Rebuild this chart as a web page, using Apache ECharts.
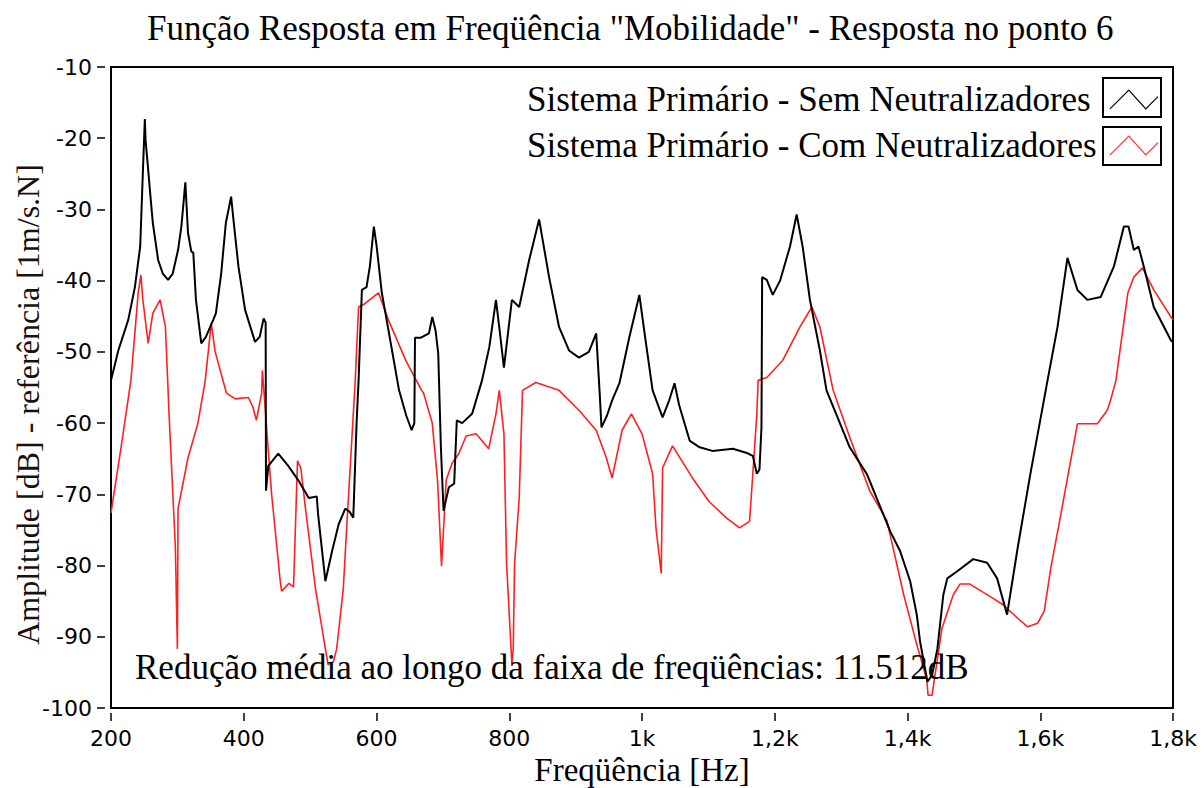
<!DOCTYPE html>
<html>
<head>
<meta charset="utf-8">
<script src="https://cdn.jsdelivr.net/npm/echarts@6/dist/echarts.min.js"></script>
<style>
html,body{margin:0;padding:0;background:#fff;}
#chart{width:1204px;height:788px;}
</style>
</head>
<body>
<div id="chart"></div>
<script>
// ---- data ----
var semFreq = [200,211,226,236,244,248,251,252,256,259,263,271,278,286,293,301,306,312,316,321,324,328,336,343,354,358,366,373,381,384,392,402,417,424,430,433,433.5,437,452,467,482,498,510,512,523,533,543,553,560,565,570,573,578,585,590,596,600,608,620,634,645,653,657,658,667,679,684,689,693,697,701,709,717,721,729,744,759,770,780,785,792,804,815,830,845,860,875,890,905,920,931,936,939,947,955,966,981,996,1006,1016,1031,1041,1049,1056,1072,1087,1106,1137,1158,1167,1173,1177,1180,1181,1188,1197,1208,1223,1233,1242,1253,1268,1278,1313,1339,1374,1389,1404,1414,1419,1430,1437,1445,1454,1460,1475,1499,1520,1535,1550,1566,1585,1611,1626,1641,1656,1671,1691,1711,1726,1733,1741,1748,1756,1771,1797,1800];
var semDb = [-54,-49.8,-45.5,-40.9,-35.2,-24.8,-17.3,-20.2,-24.4,-27.7,-31.9,-37.1,-39,-39.9,-39,-35.7,-32.4,-26.2,-33.3,-35.9,-36.1,-42.7,-48.8,-47.9,-45.5,-44.6,-39,-31.9,-28.2,-31,-38,-44.1,-48.6,-47.9,-45.3,-45.9,-69.5,-66,-64.3,-66,-68,-70.5,-70.3,-72.8,-82.2,-78,-74.2,-72,-72.5,-73.3,-60,-54,-41.3,-40.9,-38,-32.4,-35,-41.7,-48,-55.4,-59,-61,-60,-48,-48,-47.4,-45.1,-47,-50.2,-63.4,-72.3,-69,-68.5,-59.6,-60,-58.7,-54,-49.3,-42.7,-46.6,-52.2,-42.7,-43.7,-37.1,-31.4,-39.5,-46.5,-49.8,-50.8,-50,-47.4,-55.4,-60.6,-59,-56.8,-54.4,-47.9,-42,-48.8,-55.4,-59.2,-56.8,-54.4,-57.5,-62.5,-63.4,-63.9,-63.6,-64.2,-64.6,-67.1,-66.5,-60.6,-39.5,-39.9,-42,-40,-35.2,-30.7,-35.2,-42.7,-49.8,-55.4,-63.4,-67.2,-75.2,-78,-82.2,-86.9,-90.7,-96.3,-95.4,-91.7,-84.1,-81.8,-80.8,-79.1,-79.6,-81.8,-86.9,-77.5,-67.2,-54,-46.5,-36.8,-41.3,-42.7,-42.3,-38,-32.4,-32.4,-35.7,-35.2,-38,-43.7,-48.4,-48.6];

var comFreq = [200,215,230,241,245,248,256,263,274,282,286,287,297,300,301,316,331,342,351,357,374,387,407,414,419,427,428,430,437,442,455,457,468,475,481,486,493,508,523,527,535,540,550,555,568,573,583,603,618,644,668,671,684,692,698,705,714,724,735,750,769,780,785,792,796,804,806,808,815,820,840,875,905,931,946,955,970,984,1000,1016,1021,1029,1031,1046,1076,1101,1127,1147,1162,1167,1173,1175,1188,1212,1238,1256,1268,1288,1313,1343,1369,1394,1414,1429,1431,1437,1452,1469,1479,1494,1529,1544,1566,1581,1596,1606,1616,1631,1656,1676,1686,1701,1706,1714,1732,1741,1754,1771,1797,1800];
var comDb = [-72.6,-63.5,-54,-41.7,-39.2,-42.7,-48.8,-44.6,-42.7,-46.5,-55.4,-57.8,-77.5,-91.7,-72,-64.9,-60,-54,-46,-50,-55.8,-56.6,-56.4,-57.8,-59.6,-55.8,-52.6,-55,-63.9,-70,-82.2,-83.6,-82.5,-83,-65.3,-66.3,-72,-83.2,-91.7,-93.9,-93.5,-91.7,-83.2,-74.8,-54,-43.7,-43.2,-41.7,-45.5,-51.2,-55.4,-55.8,-60,-68.1,-80.1,-68,-65.6,-64.3,-61.8,-61.5,-63.6,-58.7,-55.4,-61.5,-79.8,-93.9,-91.7,-79.8,-70.5,-55.4,-54.3,-55.4,-58.2,-61,-64.8,-67.7,-61,-58.7,-61.5,-67.1,-74.7,-81.1,-66.3,-63.2,-67.7,-71,-73.3,-74.7,-73.8,-67.1,-58.7,-54,-53.6,-51.2,-46.5,-43.7,-46.5,-55.4,-62,-69.5,-73.7,-84,-91.1,-96,-98.2,-98.2,-88.8,-84.1,-82.6,-82.6,-84.6,-85.5,-87.4,-88.6,-88.1,-86.4,-80.3,-72.8,-60.1,-60.1,-60.1,-58.2,-56.8,-54,-41.7,-39.5,-38.2,-41.3,-45.1,-45.5];

var xTickValues = [200,400,600,800,1000,1200,1400,1600,1800];
var xTickLabels = ['200','400','600','800','1k','1,2k','1,4k','1,6k','1,8k'];
var seriesNames = ['Sistema Primário - Sem Neutralizadores','Sistema Primário - Com Neutralizadores'];
var titleText = 'Função Resposta em Freqüência "Mobilidade" - Resposta no ponto 6';
var noteText = 'Redução média ao longo da faixa de freqüências: 11.512dB';

function pairs(fs, ds){ var out=[]; for(var i=0;i<fs.length;i++){ out.push([fs[i], ds[i]]); } return out; }

var chart = echarts.init(document.getElementById('chart'), null, {renderer:'svg'});
var serif = '"Liberation Serif","Times New Roman",serif';
var sans = '"DejaVu Sans",Verdana,sans-serif';
var zig = 'path://M0,20 L20,0 L38,20 L51,7';

chart.setOption({
  animation:false,
  backgroundColor:'#fff',
  title:[
    {text:titleText, left:142, top:6, textStyle:{fontFamily:serif, fontSize:35, fontWeight:'normal', color:'#000'}},
    {text:noteText, left:130, top:645, textStyle:{fontFamily:serif, fontSize:35, fontWeight:'normal', color:'#000'}}
  ],
  legend:{
    orient:'vertical', left:522, top:77, align:'right', itemGap:11,
    itemWidth:48, itemHeight:20, icon:zig,
    data:[
      {name:seriesNames[0], itemStyle:{color:'none', borderColor:'#000', borderWidth:1.2}},
      {name:seriesNames[1], itemStyle:{color:'none', borderColor:'#ff3030', borderWidth:1.2}}
    ],
    formatter:function(n){ return '{a|' + n + '}'; },
    textStyle:{fontFamily:serif, fontSize:35, color:'#000',
      rich:{a:{fontFamily:serif, fontSize:35, color:'#000', width:578, align:'left', lineHeight:39}}},
    selectedMode:false
  },
  graphic:[
    {type:'rect', shape:{x:1103, y:78, width:58, height:39}, style:{fill:'none', stroke:'#000', lineWidth:2}, z:10},
    {type:'rect', shape:{x:1103, y:127, width:58, height:38}, style:{fill:'none', stroke:'#000', lineWidth:2}, z:10}
  ],
  grid:{left:111, top:67, right:31, bottom:80, show:true, borderColor:'#000', borderWidth:2, backgroundColor:'#fff',
    containLabel:false, outerBoundsMode:'none'},
  xAxis:{
    type:'value', min:200, max:1800, interval:200, offset:5,
    name:'Freqüência [Hz]', nameLocation:'middle', nameGap:36,
    nameTextStyle:{fontFamily:serif, fontSize:33, color:'#000'},
    axisLine:{show:false},
    axisTick:{show:true, length:8, lineStyle:{color:'#000', width:1.5}},
    axisLabel:{fontFamily:sans, fontSize:22, color:'#000', margin:14,
      formatter:function(v){ var i = xTickValues.indexOf(v); return i>=0 ? xTickLabels[i] : ''; }},
    splitLine:{show:false}
  },
  yAxis:{
    type:'value', min:-100, max:-10, interval:10, offset:6,
    name:'Amplitude [dB] - referência [1m/s.N]', nameLocation:'middle', nameGap:61, nameMoveOverlap:false,
    nameTextStyle:{fontFamily:serif, fontSize:32, color:'#1a1010', padding:[0,34,0,0]},
    axisLine:{show:false},
    axisTick:{show:true, length:8, lineStyle:{color:'#000', width:1.5}},
    axisLabel:{fontFamily:sans, fontSize:22, color:'#000', margin:13},
    splitLine:{show:false}
  },
  series:[
    {name:seriesNames[0], type:'line', data:pairs(semFreq, semDb), showSymbol:false, symbol:'none',
      lineStyle:{color:'#000', width:2}, itemStyle:{color:'#000'}, z:3},
    {name:seriesNames[1], type:'line', data:pairs(comFreq, comDb), showSymbol:false, symbol:'none',
      lineStyle:{color:'#ff2020', width:1.6}, itemStyle:{color:'#ff2020'}, z:2}
  ]
});
</script>
</body>
</html>
